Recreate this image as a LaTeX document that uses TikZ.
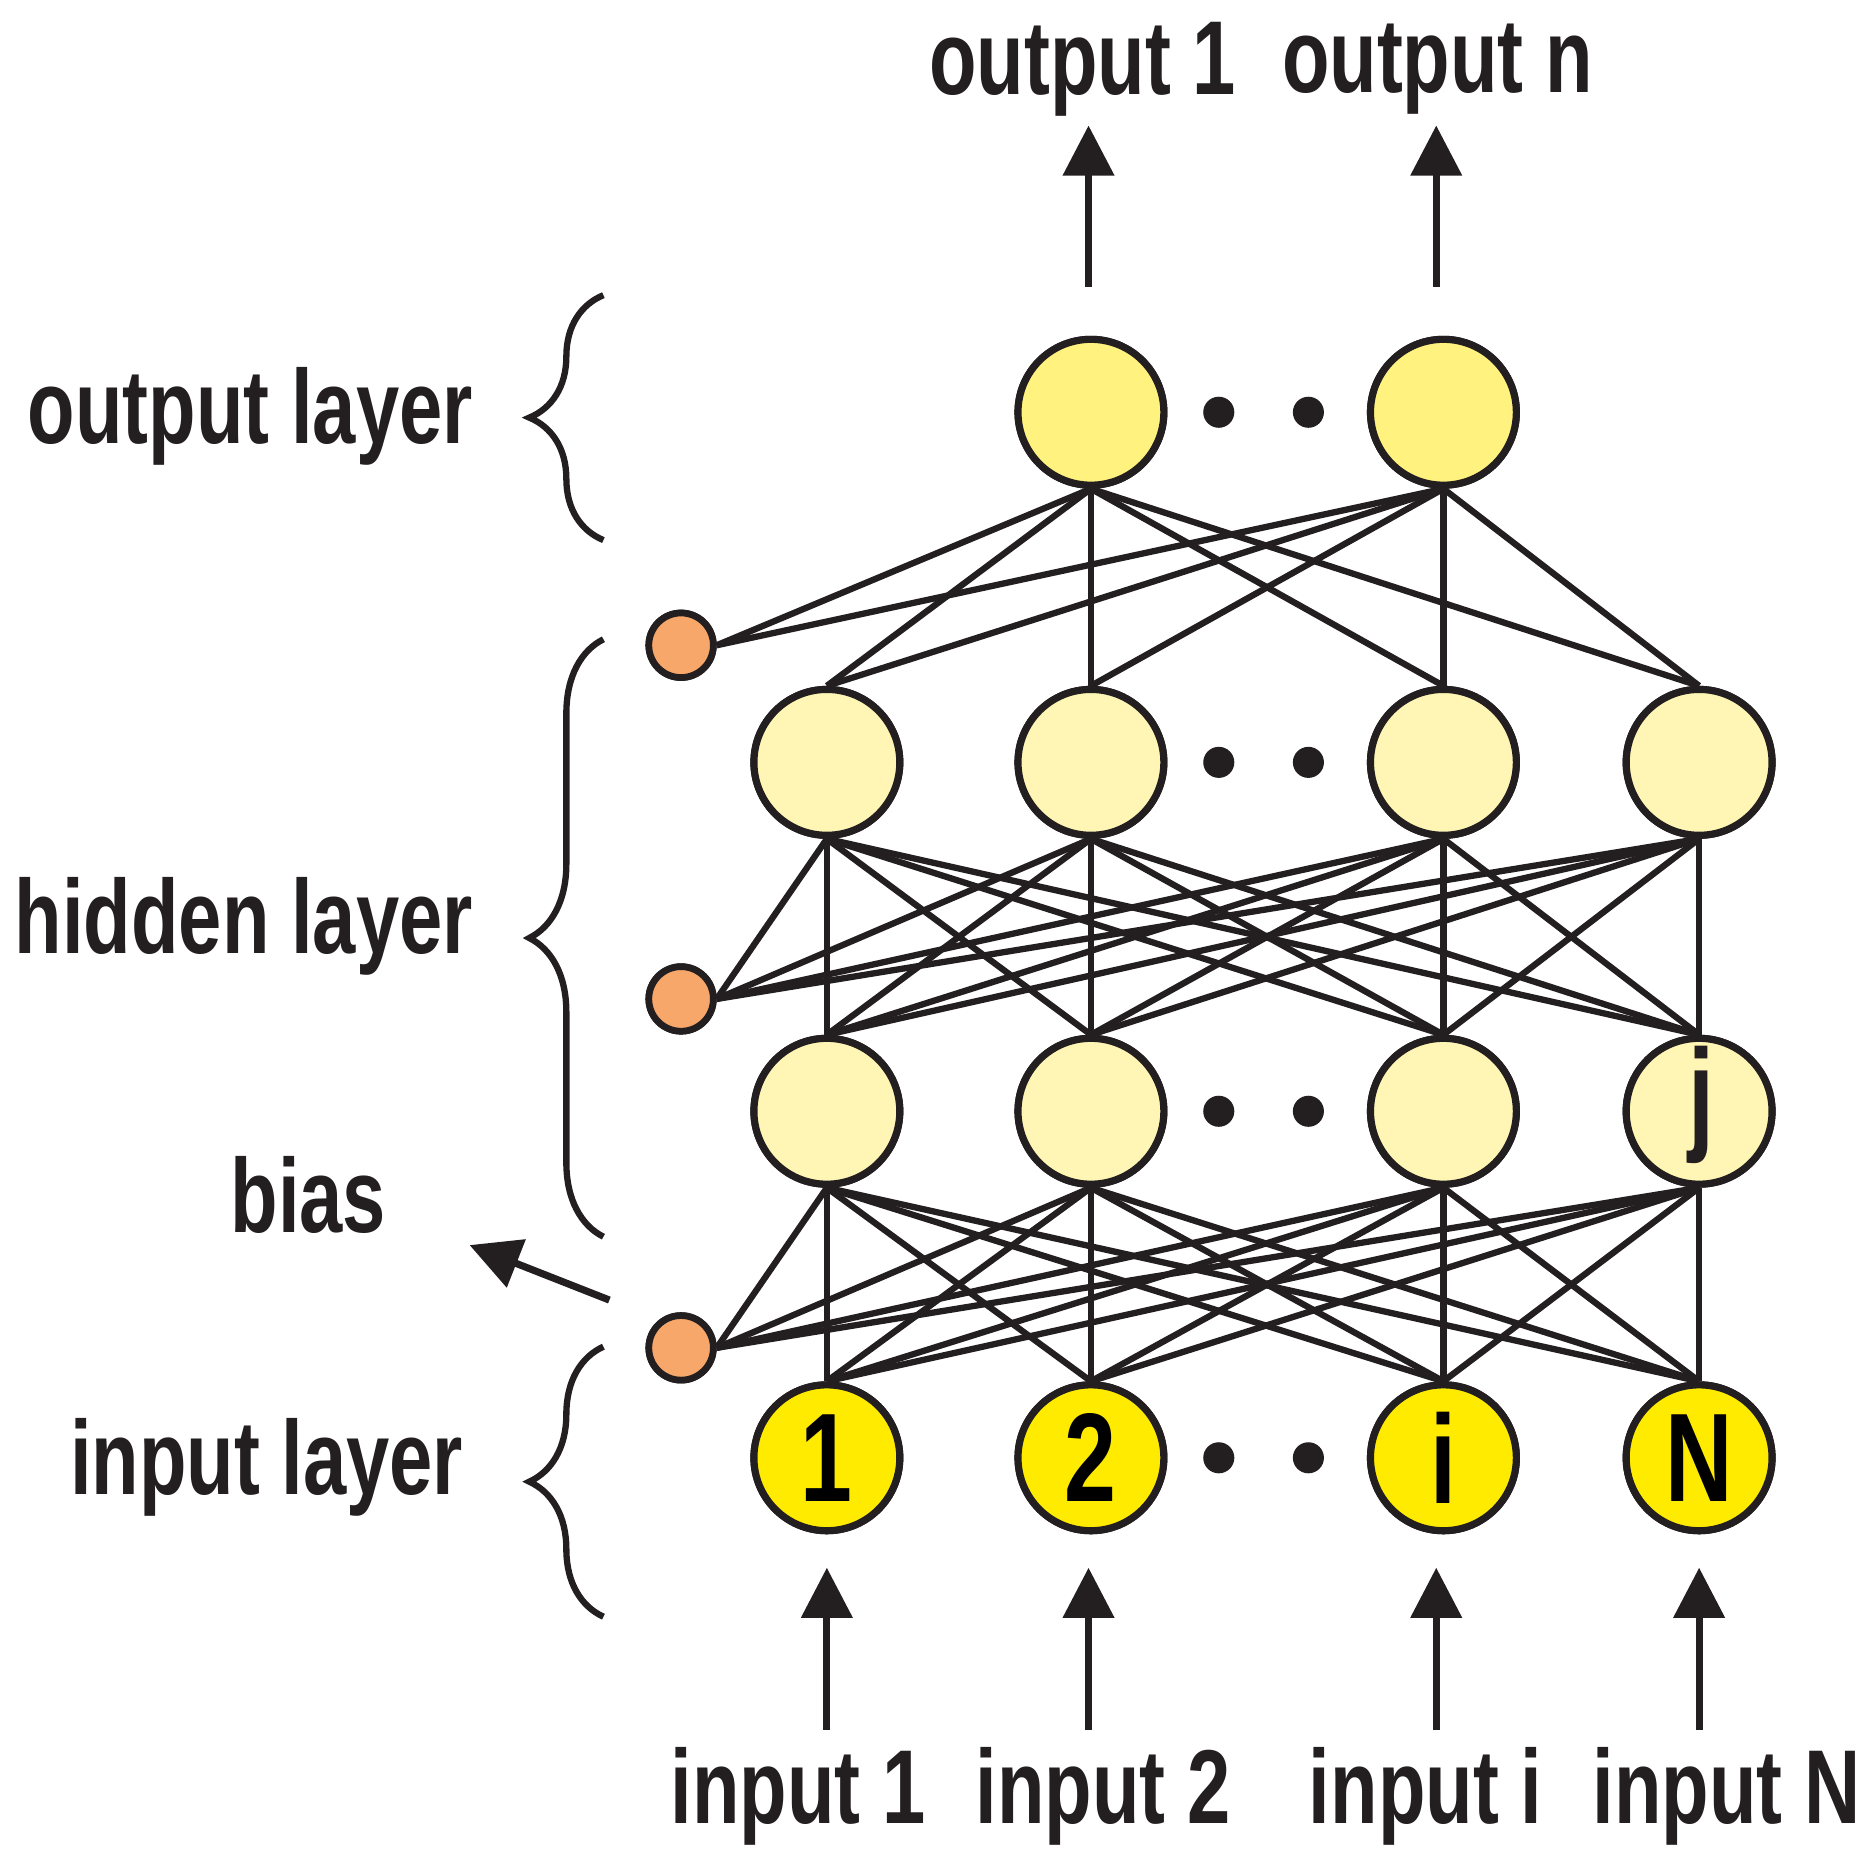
\documentclass[tikz,border=0pt]{standalone}
\usepackage{fontspec}
\setmainfont{Liberation Sans}[FakeStretch=0.74]
\usetikzlibrary{arrows.meta,decorations.pathreplacing}
\definecolor{inY}{HTML}{FFEB00}
\definecolor{hidY}{HTML}{FFF5B4}
\definecolor{outY}{HTML}{FFF27E}
\definecolor{biasO}{HTML}{F8A76A}
\definecolor{ink}{HTML}{231F20}
\begin{document}
\begin{tikzpicture}[x=0.01cm,y=-0.01cm,line width=1.5pt,draw=ink,
  neuron/.style={circle,draw=ink,line width=1.7pt,minimum size=1.22cm,inner sep=0pt,font=\bfseries\fontsize{30}{30}\selectfont},
  bias/.style={circle,draw=ink,line width=1.6pt,fill=biasO,minimum size=0.54cm,inner sep=0pt},
  dot/.style={circle,fill=ink,minimum size=0.26cm,inner sep=0pt},
  lbl/.style={font=\bfseries\fontsize{25}{25}\selectfont,text=ink},
  arr/.style={-{Triangle[length=0.42cm,width=0.42cm]},line width=1.7pt},
  br/.style={decorate,decoration={brace,amplitude=0.62cm,aspect=0.5},line width=1.5pt}]
\useasboundingbox (0,0) rectangle (1565,1556);
% nodes
\foreach \i/\x in {1/692,2/913,3/1208,4/1422}{
  \node[neuron,fill=hidY] (a\i) at (\x,638) {};
  \node[neuron,fill=hidY] (b\i) at (\x,930) {};
}
\node[neuron,fill=inY] (c1) at (692,1220) {1};
\node[neuron,fill=inY] (c2) at (913,1220) {2};
\node[neuron,fill=inY] (c3) at (1208,1220) {i};
\node[neuron,fill=inY] (c4) at (1422,1220) {N};
\node[neuron,fill=outY] (o1) at (913,345) {};
\node[neuron,fill=outY] (o2) at (1208,345) {};
\node[bias] (p1) at (570,540) {};
\node[bias] (p2) at (570,836) {};
\node[bias] (p3) at (570,1128) {};
\foreach \y [count=\k] in {345,638,930,1220}{
  \node[dot] (d\k a) at (1020,\y) {};
  \node[dot] (d\k b) at (1095,\y) {};
}
% connections
\foreach \i in {1,...,4}{
  \foreach \j in {1,...,4}{
    \draw (c\i.north) -- (b\j.south);
    \draw (b\i.north) -- (a\j.south);
  }
  \draw (p3.east) -- (b\i.south);
  \draw (p2.east) -- (a\i.south);
  \draw (a\i.north) -- (o1.south);
  \draw (a\i.north) -- (o2.south);
}
\draw (p1.east) -- (o1.south);
\draw (p1.east) -- (o2.south);
% redraw nodes on top
\foreach \i/\x in {1/692,2/913,3/1208,4/1422}{
  \node[neuron,fill=hidY] at (\x,638) {};
  \node[neuron,fill=hidY] at (\x,930) {};
}
\node[neuron,fill=inY] at (692,1220) {1};
\node[neuron,fill=inY] at (913,1220) {2};
\node[neuron,fill=inY] at (1208,1220) {i};
\node[neuron,fill=inY] at (1422,1220) {N};
\node[font=\bfseries\fontsize{30}{30}\selectfont,text=ink] at (1424,925) {j};
\node[neuron,fill=outY] at (913,345) {};
\node[neuron,fill=outY] at (1208,345) {};
\node[bias] at (570,540) {};
\node[bias] at (570,836) {};
\node[bias] at (570,1128) {};
% output arrows
\coordinate (t1) at (911,105); \coordinate (t2) at (1202,105);
\coordinate (s1) at (911,240); \coordinate (s2) at (1202,240);
\draw[arr] (s1) -- (t1); \draw[arr] (s2) -- (t2);
\node[lbl] (ol1) at (906,58) {output 1};
\node[lbl] (ol2) at (1203,58) {output n};
% input arrows
\foreach \x [count=\k] in {692,911,1202,1422}{
  \coordinate (ia\k) at (\x,1448); \coordinate (ib\k) at (\x,1312);
  \draw[arr] (ia\k) -- (ib\k);
}
\node[lbl] at (668,1503) {input 1};
\node[lbl] at (923,1503) {input 2};
\node[lbl] at (1193,1503) {input i};
\node[lbl] at (1445,1503) {input N};
% bias arrow
\coordinate (ba) at (510,1088); \coordinate (bb) at (393,1042);
\draw[arr] (ba) -- (bb);
\node[lbl] at (258,1000) {bias};
% braces
\draw[br] (505,452) -- (505,247) ;
\draw[br] (505,1035) -- (505,535);
\draw[br] (505,1353) -- (505,1127);
\node[lbl,anchor=east] at (410,348) {output layer};
\node[lbl,anchor=east] at (410,775) {hidden layer};
\node[lbl,anchor=east] at (402,1228) {input layer};
\end{tikzpicture}
\end{document}
